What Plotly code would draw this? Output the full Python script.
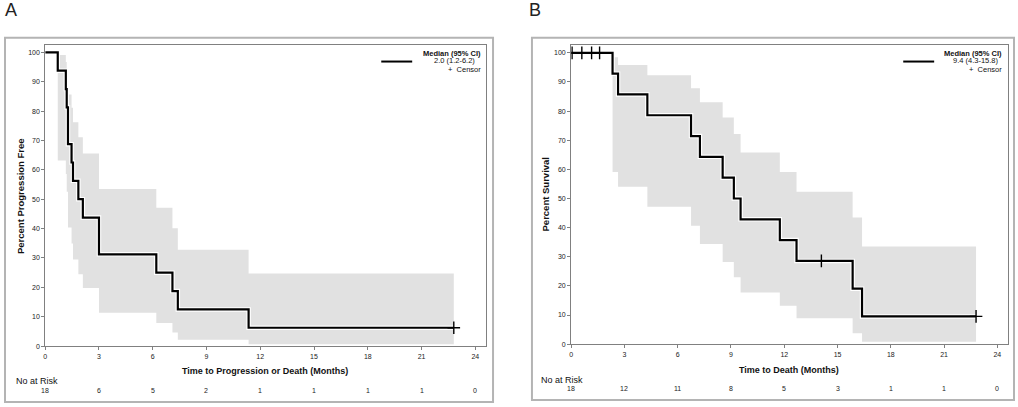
import plotly.graph_objects as go

W, H = 1018, 407

# ---------------- Data: Panel A (progression-free survival) ----------------
A_times = [0, 0.7, 1.15, 1.2, 1.27, 1.47, 1.55, 1.85, 2.1, 3.0, 6.2, 7.1, 7.4, 11.35, 22.8]
A_surv = [100, 93.75, 87.5, 81.25, 68.75, 62.5, 56.25, 50, 43.75, 31.25, 25, 18.75, 12.5, 6.25, 6.25]
A_band_times = [0.7, 1.15, 1.2, 1.27, 1.47, 1.55, 1.85, 2.1, 3.0, 6.2, 7.1, 7.4, 11.35, 22.8]
A_lower = [63.2, 58.6, 52.5, 40.4, 34.9, 29.5, 24.5, 19.8, 11.4, 7.9, 4.6, 2.2, 0.6, 0.6]
A_upper = [99.1, 96.7, 93.5, 85.6, 81.1, 76.2, 71.1, 65.6, 53.5, 47.1, 40.1, 32.8, 24.7, 24.7]
A_censor_t = [22.8]
A_censor_s = [6.25]
A_risk_t = [0, 3, 6, 9, 12, 15, 18, 21, 24]
A_risk_n = [18, 6, 5, 2, 1, 1, 1, 1, 0]
A_median = "2.0 (1.2-6.2)"

# ---------------- Data: Panel B (overall survival) ----------------
B_times = [0, 2.33, 2.64, 4.29, 6.75, 7.25, 8.53, 9.16, 9.54, 11.75, 12.69, 15.85, 16.38, 22.8]
B_surv = [100, 92.86, 85.71, 78.57, 71.43, 64.29, 57.14, 50, 42.86, 35.71, 28.57, 19.05, 9.52, 9.52]
B_band_times = [2.33, 2.64, 4.29, 6.75, 7.25, 8.53, 9.16, 9.54, 11.75, 12.69, 15.85, 16.38, 22.8]
B_lower = [59.1, 54.0, 47.2, 40.6, 34.4, 28.2, 23.0, 17.7, 13.2, 8.9, 3.7, 0.8, 0.8]
B_upper = [98.5, 95.8, 92.3, 87.8, 83.0, 77.8, 72.1, 65.8, 59.1, 52.3, 43.5, 33.5, 33.5]
B_censor_t = [0.05, 0.6, 1.15, 1.6, 14.09, 22.8]
B_censor_s = [100, 100, 100, 100, 28.57, 9.52]
B_risk_t = [0, 3, 6, 9, 12, 15, 18, 21, 24]
B_risk_n = [18, 12, 11, 8, 5, 3, 1, 1, 0]
B_median = "9.4 (4.3-15.8)"

x_ticks = [0, 3, 6, 9, 12, 15, 18, 21, 24]
y_ticks = [0, 10, 20, 30, 40, 50, 60, 70, 80, 90, 100]

FONT = "Arial, Liberation Sans, sans-serif"
BAND = "#e1e1e1"
AX = "#808080"


def px(x):
    return x / W


def py(y):
    return 1 - y / H


fig = go.Figure()


def add_panel(xa, ya, times, surv, bt, lo, up, ct, cs):
    fig.add_trace(go.Scatter(x=bt, y=lo, mode="lines", line=dict(width=0, shape="hv"),
                             xaxis=xa, yaxis=ya, hoverinfo="skip"))
    fig.add_trace(go.Scatter(x=bt, y=up, mode="lines", line=dict(width=0, shape="hv"),
                             fill="tonexty", fillcolor=BAND, xaxis=xa, yaxis=ya, hoverinfo="skip"))
    fig.add_trace(go.Scatter(x=times, y=surv, mode="lines", line=dict(color="white", width=4.5, shape="hv"),
                             xaxis=xa, yaxis=ya, hoverinfo="skip"))
    fig.add_trace(go.Scatter(x=times, y=surv, mode="lines", line=dict(color="black", width=2.2, shape="hv"),
                             xaxis=xa, yaxis=ya))
    fig.add_trace(go.Scatter(x=ct, y=cs, mode="markers",
                             marker=dict(symbol="cross-thin", size=9, line=dict(color="black", width=1.4)),
                             xaxis=xa, yaxis=ya))


add_panel("x", "y", A_times, A_surv, A_band_times, A_lower, A_upper, A_censor_t, A_censor_s)
add_panel("x2", "y2", B_times, B_surv, B_band_times, B_lower, B_upper, B_censor_t, B_censor_s)

axis_common = dict(showgrid=False, zeroline=False, showline=True, linecolor=AX, linewidth=1,
                   mirror=True, ticks="outside", ticklen=3, tickcolor=AX,
                   tickfont=dict(size=7, color="#222", family=FONT))

fig.update_layout(
    width=W, height=H,
    margin=dict(l=0, r=0, t=0, b=0),
    paper_bgcolor="white", plot_bgcolor="white",
    showlegend=False,
    font=dict(family=FONT, color="#111"),
    xaxis=dict(domain=[px(43.3), px(485)], range=[0, 24.6], tickvals=x_ticks, anchor="y", **axis_common),
    yaxis=dict(domain=[py(348.7), py(45)], range=[0, 102.6], tickvals=y_ticks, anchor="x", **axis_common),
    xaxis2=dict(domain=[px(570.3), px(1008)], range=[0, 24.6], tickvals=x_ticks, anchor="y2", **axis_common),
    yaxis2=dict(domain=[py(346.7), py(45)], range=[0, 102.8], tickvals=y_ticks, anchor="x2", **axis_common),
)

shapes = []
# outer frames
shapes.append(dict(type="rect", xref="paper", yref="paper", x0=px(3), x1=px(492), y0=py(405), y1=py(38),
                   line=dict(color="#b4b4b4", width=2)))
shapes.append(dict(type="rect", xref="paper", yref="paper", x0=px(531), x1=px(1014), y0=py(403), y1=py(38),
                   line=dict(color="#b4b4b4", width=2)))
# legend line samples
shapes.append(dict(type="line", xref="paper", yref="paper", x0=px(380), x1=px(411), y0=py(62), y1=py(62),
                   line=dict(color="black", width=2)))
shapes.append(dict(type="line", xref="paper", yref="paper", x0=px(903), x1=px(934), y0=py(62), y1=py(62),
                   line=dict(color="black", width=2)))

ann = []
# panel letters
ann.append(dict(text="A", x=px(1), y=py(10), xref="paper", yref="paper", xanchor="left", yanchor="middle",
                showarrow=False, font=dict(size=18, color="#222")))
ann.append(dict(text="B", x=px(526), y=py(10), xref="paper", yref="paper", xanchor="left", yanchor="middle",
                showarrow=False, font=dict(size=18, color="#222")))
# axis titles
ann.append(dict(text="<b>Percent Progression Free</b>", x=px(18.5), y=py(197), xref="paper", yref="paper",
                textangle=-90, showarrow=False, font=dict(size=9.5), xanchor="center", yanchor="middle"))
ann.append(dict(text="<b>Percent Survival</b>", x=px(545), y=py(196), xref="paper", yref="paper",
                textangle=-90, showarrow=False, font=dict(size=9.5), xanchor="center", yanchor="middle"))
ann.append(dict(text="<b>Time to Progression or Death (Months)</b>", x=px(264), y=py(374), xref="paper",
                yref="paper", showarrow=False, font=dict(size=9), xanchor="center", yanchor="middle"))
ann.append(dict(text="<b>Time to Death (Months)</b>", x=px(789), y=py(373), xref="paper",
                yref="paper", showarrow=False, font=dict(size=9), xanchor="center", yanchor="middle"))
# at risk
ann.append(dict(text="No at Risk", x=px(12), y=py(384), xref="paper", yref="paper", xanchor="left",
                yanchor="middle", showarrow=False, font=dict(size=9)))
ann.append(dict(text="No at Risk", x=px(538), y=py(383), xref="paper", yref="paper", xanchor="left",
                yanchor="middle", showarrow=False, font=dict(size=9)))
for t, n in zip(A_risk_t, A_risk_n):
    ann.append(dict(text=str(n), x=t, y=py(393), xref="x", yref="paper", showarrow=False,
                    xanchor="center", yanchor="middle", font=dict(size=7, color="#222")))
for t, n in zip(B_risk_t, B_risk_n):
    ann.append(dict(text=str(n), x=t, y=py(391), xref="x2", yref="paper", showarrow=False,
                    xanchor="center", yanchor="middle", font=dict(size=7, color="#222")))
# legends
for right, center, med in [(482, 453, A_median), (1004, 976, B_median)]:
    ann.append(dict(text="<b>Median (95% CI)</b>", x=px(right), y=py(54), xref="paper", yref="paper",
                    xanchor="right", yanchor="middle", showarrow=False, font=dict(size=7.5)))
    ann.append(dict(text=med, x=px(center), y=py(61), xref="paper", yref="paper",
                    xanchor="center", yanchor="middle", showarrow=False, font=dict(size=7.5)))
    ann.append(dict(text="+  Censor", x=px(right), y=py(70), xref="paper", yref="paper",
                    xanchor="right", yanchor="middle", showarrow=False, font=dict(size=7.5)))

fig.update_layout(shapes=shapes, annotations=ann)
fig.write_html("out.html", config={"displayModeBar": False},
               post_script="document.body.style.margin='0';document.body.style.overflow='hidden';")
